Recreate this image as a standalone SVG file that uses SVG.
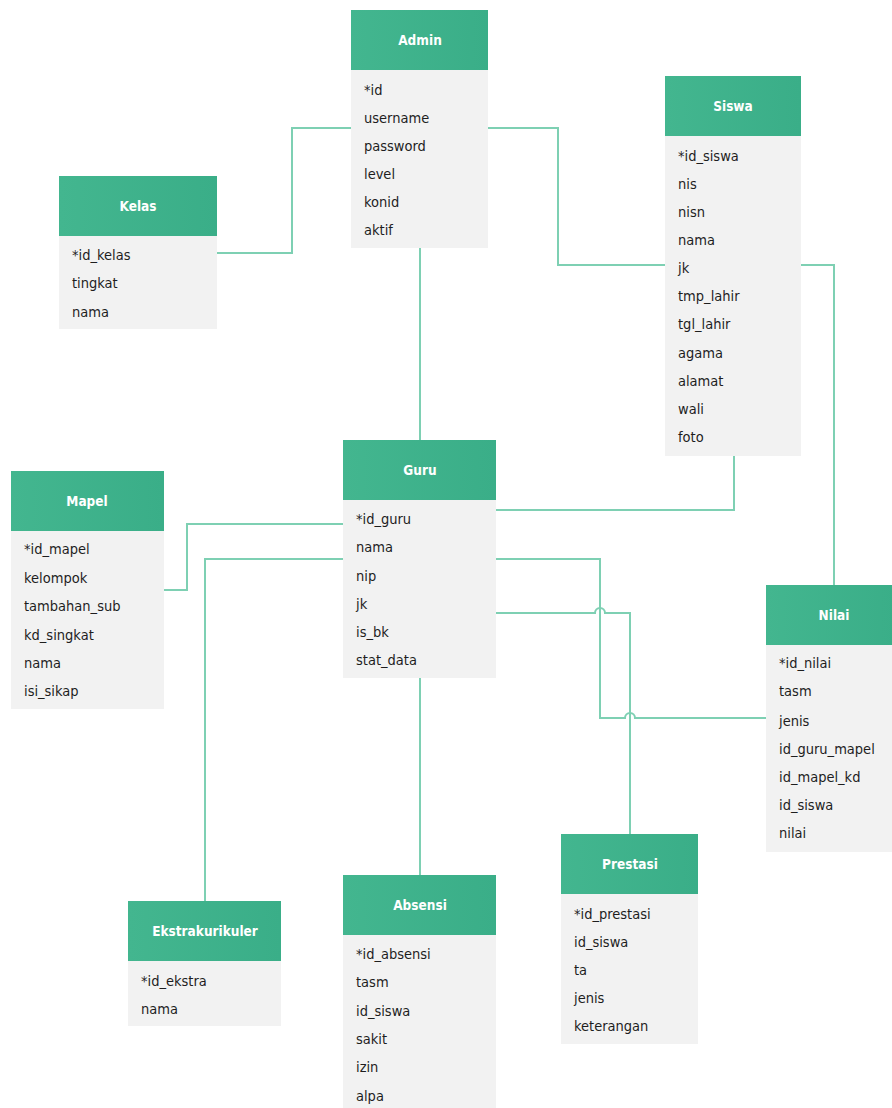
<svg xmlns="http://www.w3.org/2000/svg" width="892" height="1108" viewBox="0 0 892 1108">
<defs>
<linearGradient id="hg" x1="0" y1="0" x2="1" y2="0">
<stop offset="0" stop-color="#43B68F"/>
<stop offset="1" stop-color="#3AAE88"/>
</linearGradient>
<style>
.hd{fill:url(#hg);}
.bd{fill:#F2F2F2;}
.ti{font-family:"DejaVu Sans Condensed","Liberation Sans",sans-serif;font-size:13.5px;font-weight:bold;fill:#FFFFFF;text-anchor:middle;}
.tx{font-family:"DejaVu Sans Condensed","Liberation Sans",sans-serif;font-size:14.5px;fill:#1E1E1E;}
.cn{fill:none;stroke:#7ED0B3;stroke-width:2;}
</style>
</defs>
<rect width="892" height="1108" fill="#FFFFFF"/>

<g id="connectors">
<path class="cn" d="M217,253 H292 V128 H351"/>
<path class="cn" d="M488,128 H558 V265 H665"/>
<path class="cn" d="M801,265 H834 V585"/>
<path class="cn" d="M420,248 V440"/>
<path class="cn" d="M734,456 V510 H496"/>
<path class="cn" d="M164,590 H187 V524 H343"/>
<path class="cn" d="M205,901 V559 H343"/>
<path class="cn" d="M420,678 V875"/>
<path class="cn" d="M496,559 H600 V718 H625 A5,5 0 0 1 635,718 H766"/>
<path class="cn" d="M496,613 H595 A5,5 0 0 1 605,613 H630 V834"/>
</g>

<g id="admin">
<rect class="hd" x="351" y="10" width="137" height="60"/>
<rect class="bd" x="351" y="70" width="137" height="178"/>
<text class="ti" x="420" y="45">Admin</text>
<text class="tx" x="364" y="95">*id</text>
<text class="tx" x="364" y="123">username</text>
<text class="tx" x="364" y="151">password</text>
<text class="tx" x="364" y="179">level</text>
<text class="tx" x="364" y="207">konid</text>
<text class="tx" x="364" y="235">aktif</text>
</g>

<g id="kelas">
<rect class="hd" x="59" y="176" width="158" height="60"/>
<rect class="bd" x="59" y="236" width="158" height="93"/>
<text class="ti" x="138" y="211">Kelas</text>
<text class="tx" x="72" y="260">*id_kelas</text>
<text class="tx" x="72" y="288">tingkat</text>
<text class="tx" x="72" y="317">nama</text>
</g>

<g id="siswa">
<rect class="hd" x="665" y="76" width="136" height="60"/>
<rect class="bd" x="665" y="136" width="136" height="320"/>
<text class="ti" x="733" y="111">Siswa</text>
<text class="tx" x="678" y="161">*id_siswa</text>
<text class="tx" x="678" y="189">nis</text>
<text class="tx" x="678" y="217">nisn</text>
<text class="tx" x="678" y="245">nama</text>
<text class="tx" x="678" y="273">jk</text>
<text class="tx" x="678" y="301">tmp_lahir</text>
<text class="tx" x="678" y="329">tgl_lahir</text>
<text class="tx" x="678" y="358">agama</text>
<text class="tx" x="678" y="386">alamat</text>
<text class="tx" x="678" y="414">wali</text>
<text class="tx" x="678" y="442">foto</text>
</g>

<g id="guru">
<rect class="hd" x="343" y="440" width="153" height="60"/>
<rect class="bd" x="343" y="500" width="153" height="178"/>
<text class="ti" x="420" y="475">Guru</text>
<text class="tx" x="356" y="524">*id_guru</text>
<text class="tx" x="356" y="552">nama</text>
<text class="tx" x="356" y="581">nip</text>
<text class="tx" x="356" y="609">jk</text>
<text class="tx" x="356" y="637">is_bk</text>
<text class="tx" x="356" y="665">stat_data</text>
</g>

<g id="mapel">
<rect class="hd" x="11" y="471" width="153" height="60"/>
<rect class="bd" x="11" y="531" width="153" height="178"/>
<text class="ti" x="87" y="506">Mapel</text>
<text class="tx" x="24" y="554">*id_mapel</text>
<text class="tx" x="24" y="583">kelompok</text>
<text class="tx" x="24" y="611">tambahan_sub</text>
<text class="tx" x="24" y="640">kd_singkat</text>
<text class="tx" x="24" y="668">nama</text>
<text class="tx" x="24" y="696">isi_sikap</text>
</g>

<g id="nilai">
<rect class="hd" x="766" y="585" width="130" height="60"/>
<rect class="bd" x="766" y="645" width="130" height="207"/>
<text class="ti" x="834" y="620">Nilai</text>
<text class="tx" x="779" y="668">*id_nilai</text>
<text class="tx" x="779" y="696">tasm</text>
<text class="tx" x="779" y="726">jenis</text>
<text class="tx" x="779" y="754">id_guru_mapel</text>
<text class="tx" x="779" y="782">id_mapel_kd</text>
<text class="tx" x="779" y="810">id_siswa</text>
<text class="tx" x="779" y="838">nilai</text>
</g>

<g id="prestasi">
<rect class="hd" x="561" y="834" width="137" height="60"/>
<rect class="bd" x="561" y="894" width="137" height="150"/>
<text class="ti" x="630" y="869">Prestasi</text>
<text class="tx" x="574" y="919">*id_prestasi</text>
<text class="tx" x="574" y="947">id_siswa</text>
<text class="tx" x="574" y="975">ta</text>
<text class="tx" x="574" y="1003">jenis</text>
<text class="tx" x="574" y="1031">keterangan</text>
</g>

<g id="ekstrakurikuler">
<rect class="hd" x="128" y="901" width="153" height="60"/>
<rect class="bd" x="128" y="961" width="153" height="65"/>
<text class="ti" x="205" y="936">Ekstrakurikuler</text>
<text class="tx" x="141" y="986">*id_ekstra</text>
<text class="tx" x="141" y="1014">nama</text>
</g>

<g id="absensi">
<rect class="hd" x="343" y="875" width="153" height="60"/>
<rect class="bd" x="343" y="935" width="153" height="173"/>
<text class="ti" x="420" y="910">Absensi</text>
<text class="tx" x="356" y="959">*id_absensi</text>
<text class="tx" x="356" y="987">tasm</text>
<text class="tx" x="356" y="1016">id_siswa</text>
<text class="tx" x="356" y="1044">sakit</text>
<text class="tx" x="356" y="1072">izin</text>
<text class="tx" x="356" y="1101">alpa</text>
</g>
</svg>
